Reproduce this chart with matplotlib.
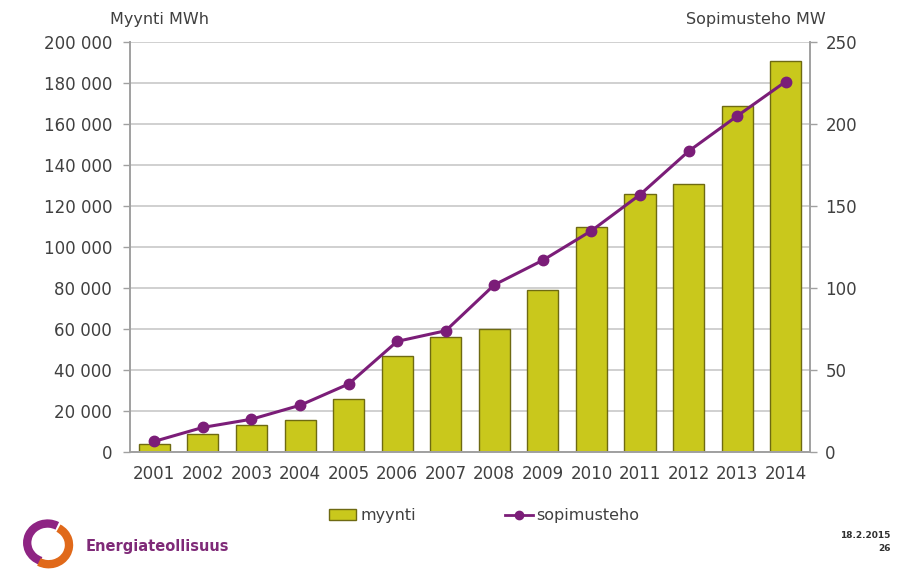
import matplotlib
matplotlib.use("Agg")
import matplotlib.pyplot as plt
from matplotlib.patches import Arc
from matplotlib.lines import Line2D
from matplotlib.patches import Patch
from matplotlib.ticker import FuncFormatter

years = ["2001", "2002", "2003", "2004", "2005", "2006", "2007",
         "2008", "2009", "2010", "2011", "2012", "2013", "2014"]
myynti = [4000, 9000, 13000, 15500, 26000, 47000, 56000,
          60000, 79000, 110000, 126000, 131000, 169000, 191000]
sopimusteho = [6.5, 15, 20, 28.5, 41.5, 67.5, 74,
               102, 117, 135, 157, 183.5, 205, 226]

BAR = "#c9c81c"
BAR_EDGE = "#6e6a12"
LINE = "#7b1d78"
TXT = "#404040"
GRID = "#c8c8c8"

plt.rcParams["font.family"] = ["DejaVu Sans"]

fig = plt.figure(figsize=(8.97, 5.71), dpi=100)
ax = fig.add_axes([0.145, 0.2084, 0.758, 0.7176])
ax2 = ax.twinx()

x = list(range(len(years)))
ax.bar(x, myynti, width=0.64, color=BAR, edgecolor=BAR_EDGE, linewidth=1.0, zorder=2)
ax.set_ylim(0, 200000)
ax.set_xlim(-0.5, len(years) - 0.5)
ax.set_yticks(range(0, 200001, 20000))
ax.yaxis.set_major_formatter(FuncFormatter(lambda v, p: f"{int(v):,}".replace(",", " ")))
ax.grid(axis="y", color=GRID, linewidth=1.2, zorder=0)
ax.set_axisbelow(True)
ax.set_xticks(x)
ax.set_xticklabels(years)

ax2.plot(x, sopimusteho, color=LINE, linewidth=2.2, marker="o", markersize=7.5,
         zorder=3)
ax2.set_ylim(0, 250)
ax2.set_yticks(range(0, 251, 50))

for a in (ax, ax2):
    a.spines["top"].set_visible(False)
    for s in ("left", "right", "bottom"):
        a.spines[s].set_color("#a0a0a0")
        a.spines[s].set_linewidth(1.2)
    a.tick_params(labelsize=12, colors=TXT, length=5, width=1.0)
    a.tick_params(axis="both", color="#a0a0a0")
ax.tick_params(axis="x", length=0, pad=9)
ax.tick_params(axis="y", pad=8)
ax2.tick_params(axis="y", pad=6)

fig.text(0.178, 0.965, "Myynti MWh", ha="center", va="center", fontsize=11.5, color=TXT)
fig.text(0.843, 0.965, "Sopimusteho MW", ha="center", va="center", fontsize=11.5, color=TXT)

handles = [Patch(facecolor=BAR, edgecolor=BAR_EDGE, label="myynti"),
           Line2D([0], [0], color=LINE, marker="o", markersize=6, linewidth=2,
                  label="sopimusteho")]
fig.legend(handles=handles, loc="center", bbox_to_anchor=(0.54, 0.097), ncol=2,
           frameon=False, fontsize=11.5, columnspacing=5.6, handlelength=1.7,
           handleheight=0.6, handletextpad=0.25, labelcolor=TXT)

# logo
lax = fig.add_axes([0.008, 0.0, 0.09, 0.095])
lax.set_xlim(-1.2, 1.2)
lax.set_ylim(-1.2, 1.2)
lax.set_aspect("equal")
lax.axis("off")
lax.add_patch(Arc((0, 0.05), 1.8, 1.7, theta1=60, theta2=250, color="#8e2483", linewidth=6))
lax.add_patch(Arc((0.05, -0.05), 1.8, 1.7, theta1=240, theta2=420, color="#e0691a", linewidth=6))
fig.text(0.095, 0.043, "Energiateollisuus", ha="left", va="center", fontsize=10.5,
         color="#7f2a78", fontweight="bold")

fig.text(0.993, 0.063, "18.2.2015", ha="right", va="center", fontsize=6.5, fontweight="bold", color="#303030")
fig.text(0.993, 0.040, "26", ha="right", va="center", fontsize=6.5, fontweight="bold", color="#303030")

fig.savefig("out.png", dpi=100)
